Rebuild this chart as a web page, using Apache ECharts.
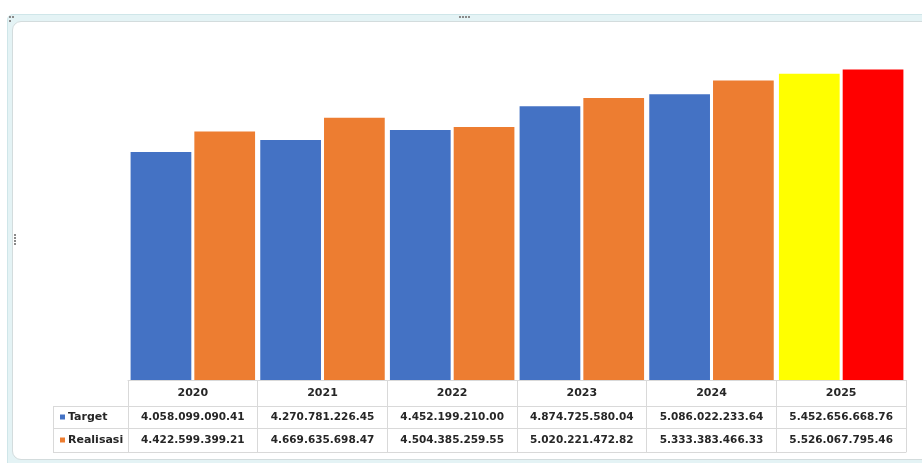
<!DOCTYPE html>
<html>
<head>
<meta charset="utf-8">
<script src="https://cdn.jsdelivr.net/npm/echarts@6/dist/echarts.min.js"></script>
<style>
  html, body { margin: 0; padding: 0; background: #ffffff; width: 922px; height: 463px; overflow: hidden; }
  #outer { position: absolute; left: 7px; top: 14px; width: 940px; height: 470px; background: #e4f3f5; border: 1px solid #cfe6e9; border-radius: 6px; }
  #inner { position: absolute; left: 12px; top: 21px; width: 930px; height: 437px; background: #ffffff; border: 1px solid #d3dcdd; border-radius: 9px; }
  .dot { position: absolute; width: 2px; height: 2px; background: #8a8a8a; }
  #chart { position: absolute; left: 0; top: 0; width: 922px; height: 463px; }
</style>
</head>
<body>
<div id="outer"></div>
<div id="inner"></div>
<div class="dot" style="left:459px;top:16px"></div>
<div class="dot" style="left:462px;top:16px"></div>
<div class="dot" style="left:465px;top:16px"></div>
<div class="dot" style="left:468px;top:16px"></div>
<div class="dot" style="left:9px;top:16px"></div>
<div class="dot" style="left:12px;top:16px"></div>
<div class="dot" style="left:9px;top:20px"></div>
<div class="dot" style="left:14px;top:234px"></div>
<div class="dot" style="left:14px;top:237px"></div>
<div class="dot" style="left:14px;top:240px"></div>
<div class="dot" style="left:14px;top:243px"></div>
<div id="chart"></div>
<script>
var years = ['2020', '2021', '2022', '2023', '2024', '2025'];
var targetValues = [4058099090.41, 4270781226.45, 4452199210.00, 4874725580.04, 5086022233.64, 5452656668.76];
var realisasiValues = [4422599399.21, 4669635698.47, 4504385259.55, 5020221472.82, 5333383466.33, 5526067795.46];
var seriesNames = ['Target', 'Realisasi'];

var colTarget = '#4472c4', colReal = '#ed7d31';
var colTargetLast = '#ffff00', colRealLast = '#ff0000';

function fmt(v) {
  var s = v.toFixed(2).split('.');
  var intPart = s[0].replace(/\B(?=(\d{3})+(?!\d))/g, '.');
  return intPart + '.' + s[1];
}

var gridLeft = 128, gridRight = 16, gridTop = 43, gridBottom = 83;
var H = 463;
var base = H - gridBottom; // 380
var rowTop1 = base + 26, rowTop2 = base + 48, rowEnd = base + 72;
var tableLeft = 53;
var lineColor = '#d9d9d9';
var textColor = '#262626';
var fontFam = '"DejaVu Sans", Verdana, sans-serif';

function barData(vals, normal, last) {
  return vals.map(function (v, i) {
    return { value: v, itemStyle: { color: i === vals.length - 1 ? last : normal } };
  });
}

var chart = echarts.init(document.getElementById('chart'), null, { renderer: 'canvas' });
chart.setOption({
  backgroundColor: 'transparent',
  animation: false,
  grid: { left: gridLeft, right: gridRight, top: gridTop, bottom: gridBottom, containLabel: false },
  xAxis: [
    {
      type: 'category', data: years, position: 'bottom', offset: 0,
      axisLine: { show: true, lineStyle: { color: lineColor, width: 1 } },
      axisTick: { show: true, interval: 0, length: 72, lineStyle: { color: lineColor } },
      axisLabel: { interval: 0, margin: 8, color: textColor, fontWeight: 'bold', fontSize: 11, fontFamily: fontFam }
    },
    {
      type: 'category', data: targetValues.map(fmt), position: 'bottom', offset: 26,
      axisLine: { show: true, lineStyle: { color: lineColor } },
      axisTick: { show: false },
      axisLabel: { interval: 0, hideOverlap: false, margin: 6, color: textColor, fontWeight: 'bold', fontSize: 10.5, fontFamily: fontFam }
    },
    {
      type: 'category', data: realisasiValues.map(fmt), position: 'bottom', offset: 48,
      axisLine: { show: true, lineStyle: { color: lineColor } },
      axisTick: { show: false },
      axisLabel: { interval: 0, hideOverlap: false, margin: 7, color: textColor, fontWeight: 'bold', fontSize: 10.5, fontFamily: fontFam }
    },
    {
      type: 'category', data: years, position: 'bottom', offset: 72,
      axisLine: { show: true, lineStyle: { color: lineColor } },
      axisTick: { show: false },
      axisLabel: { show: false }
    }
  ],
  yAxis: {
    type: 'value', min: 0, max: 6000000000, show: false,
    splitLine: { show: false }
  },
  series: [
    {
      name: seriesNames[0], type: 'bar', xAxisIndex: 0,
      data: barData(targetValues, colTarget, colTargetLast),
      barCategoryGap: '4%', barGap: '5%'
    },
    {
      name: seriesNames[1], type: 'bar', xAxisIndex: 0,
      data: barData(realisasiValues, colReal, colRealLast),
      barCategoryGap: '4%', barGap: '5%'
    }
  ],
  graphic: [
    { type: 'line', shape: { x1: tableLeft, y1: rowTop1 + 0.5, x2: gridLeft, y2: rowTop1 + 0.5 }, style: { stroke: lineColor, lineWidth: 1 } },
    { type: 'line', shape: { x1: tableLeft, y1: rowTop2 + 0.5, x2: gridLeft, y2: rowTop2 + 0.5 }, style: { stroke: lineColor, lineWidth: 1 } },
    { type: 'line', shape: { x1: tableLeft, y1: rowEnd + 0.5, x2: gridLeft, y2: rowEnd + 0.5 }, style: { stroke: lineColor, lineWidth: 1 } },
    { type: 'line', shape: { x1: tableLeft + 0.5, y1: rowTop1, x2: tableLeft + 0.5, y2: rowEnd }, style: { stroke: lineColor, lineWidth: 1 } },
    { type: 'rect', shape: { x: 60, y: (rowTop1 + rowTop2) / 2 - 2.5, width: 5, height: 5 }, style: { fill: colTarget } },
    { type: 'text', x: 68, y: (rowTop1 + rowTop2) / 2, style: { text: seriesNames[0], fill: textColor, font: 'bold 11px ' + fontFam, verticalAlign: 'middle', align: 'left' } },
    { type: 'rect', shape: { x: 60, y: (rowTop2 + rowEnd) / 2 - 2.5, width: 5, height: 5 }, style: { fill: colReal } },
    { type: 'text', x: 68, y: (rowTop2 + rowEnd) / 2, style: { text: seriesNames[1], fill: textColor, font: 'bold 11px ' + fontFam, verticalAlign: 'middle', align: 'left' } }
  ]
});
</script>
</body>
</html>
